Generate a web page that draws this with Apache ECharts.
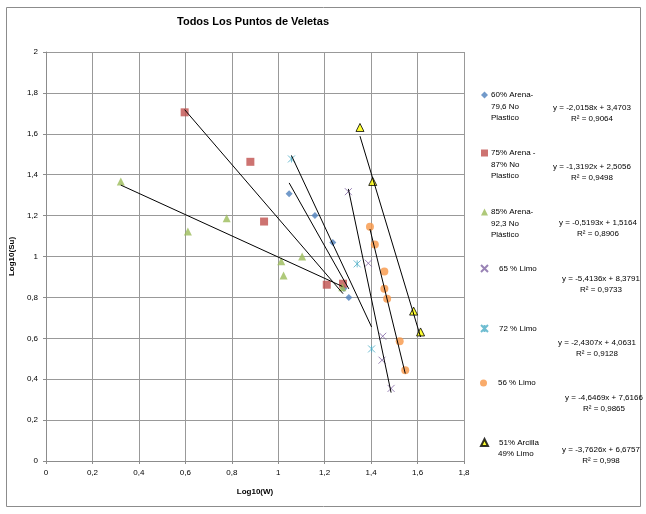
<!DOCTYPE html>
<html>
<head>
<meta charset="utf-8">
<script src="https://cdn.jsdelivr.net/npm/echarts@6/dist/echarts.min.js"></script>
<style>html,body{margin:0;padding:0;background:#fff}#c{width:646px;height:514px}</style>
</head>
<body>
<div id="c"></div>
<script>
// ---- data ----
const seriesNames = ['60% Arena-\n79,6 No\nPlastico', '75% Arena -\n87% No\nPlastico', '85% Arena-\n92,3 No\nPlástico', '65 % Limo', '72 % Limo', '56 % Limo', '51% Arcilla\n49% Limo'];
const s60x = [1.047, 1.158, 1.235, 1.283, 1.304];
const s60y = [1.307, 1.200, 1.068, 0.843, 0.800];
const s75x = [0.597, 0.880, 0.939, 1.209, 1.279];
const s75y = [1.705, 1.463, 1.171, 0.862, 0.867];
const s85x = [0.322, 0.611, 0.778, 1.013, 1.023, 1.103, 1.276];
const s85y = [1.367, 1.122, 1.187, 0.977, 0.907, 1.000, 0.850];
const s65x = [1.302, 1.388, 1.450, 1.447, 1.486];
const s65y = [1.317, 0.967, 0.610, 0.493, 0.355];
const s72x = [1.057, 1.340, 1.402];
const s72y = [1.477, 0.964, 0.548];
const s56x = [1.395, 1.416, 1.457, 1.457, 1.469, 1.523, 1.547];
const s56y = [1.146, 1.059, 0.927, 0.842, 0.794, 0.585, 0.444];
const s51x = [1.352, 1.407, 1.583, 1.613];
const s51y = [1.631, 1.367, 0.733, 0.631];
const slopes = [-2.0158, -1.3192, -0.5193, -5.4136, -2.4307, -4.6469, -3.7626];
const intercepts = [3.4703, 2.5056, 1.5164, 8.3791, 4.0631, 7.6166, 6.6757];
const equations = ['y = -2,0158x + 3,4703', 'y = -1,3192x + 2,5056', 'y = -0,5193x + 1,5164', 'y = -5,4136x + 8,3791', 'y = -2,4307x + 4,0631', 'y = -4,6469x + 7,6166', 'y = -3,7626x + 6,6757'];
const r2 = ['R² = 0,9064', 'R² = 0,9498', 'R² = 0,8906', 'R² = 0,9733', 'R² = 0,9128', 'R² = 0,9865', 'R² = 0,998'];
const xTickLabels = ['0', '0,2', '0,4', '0,6', '0,8', '1', '1,2', '1,4', '1,6', '1,8'];
const yTickLabels = ['0', '0,2', '0,4', '0,6', '0,8', '1', '1,2', '1,4', '1,6', '1,8', '2'];

const xs = [s60x, s75x, s85x, s65x, s72x, s56x, s51x];
const ys = [s60y, s75y, s85y, s65y, s72y, s56y, s51y];

// ---- styling ----
const FONT = '"Liberation Sans", Arial, sans-serif';
const colors = ['#4F81BD', '#C0504D', '#9BBB59', '#8064A2', '#4BACC6', '#F79646', '#FFFF00'];
const symbols = ['diamond', 'rect', 'triangle', 'path://M0,0L10,10M10,0L0,10',
  'path://M0,0L10,10M10,0L0,10M5,0L5,10', 'circle', 'triangle'];
const sizes = [7, 8, 8, 7, 7, 8, 8];
const legendTop = [95, 153, 212, 268, 328, 383, 442];
const legendLeft = [481, 481, 481, 480, 480, 480, 480];
const legendPad = [-2, -2, -2, 6, 6, 6, 6];
const eqX = [592, 592, 598, 601, 597, 604, 601];
const eqY = [108, 167, 223, 279, 343, 398, 450];

const series = [];
const legends = [];
for (let i = 0; i < 7; i++) {
  const isLineSym = (i === 3 || i === 4);
  const itemStyle = isLineSym
    ? { color: 'rgba(0,0,0,0)', borderColor: colors[i], borderWidth: 1 }
    : (i === 6 ? { color: colors[i], borderColor: '#000', borderWidth: 1 } : { color: colors[i] });
  series.push({
    name: seriesNames[i], type: 'scatter', symbol: symbols[i], symbolSize: sizes[i],
    data: xs[i].map((x, k) => [x, ys[i][k]]), itemStyle: itemStyle, z: 2
  });
  const xmin = Math.min(...xs[i]), xmax = Math.max(...xs[i]);
  series.push({
    type: 'line', silent: true, symbol: 'none', z: 3,
    lineStyle: { color: '#000', width: 1 },
    data: [[xmin, slopes[i] * xmin + intercepts[i]], [xmax, slopes[i] * xmax + intercepts[i]]]
  });
  legends.push({
    data: [seriesNames[i]], left: legendLeft[i], top: legendTop[i] - 4, orient: 'vertical',
    padding: 0, itemWidth: 7, itemHeight: 7, itemGap: 0, selectedMode: false,
    formatter: n => n.split('\n')[0],
    textStyle: { fontFamily: FONT, fontSize: 8, color: '#000', padding: [0, 0, 0, legendPad[i]] }
  });
}

const graphics = [];
graphics.push({ type: 'rect', shape: { x: 6.5, y: 7.5, width: 634, height: 499 }, style: { fill: 'none', stroke: '#8c8c8c', lineWidth: 1 }, z: -1 });
graphics.push({ type: 'text', x: 253, y: 22, style: { text: 'Todos Los Puntos de Veletas', font: 'bold 11px ' + FONT, fill: '#000', textAlign: 'center', textVerticalAlign: 'middle' } });
seriesNames.forEach((n, i) => {
  const parts = n.split('\n');
  for (let j = 1; j < parts.length; j++) {
    const x = legendLeft[i] + 7 + 5 + legendPad[i];
    graphics.push({ type: 'text', x: x, y: legendTop[i] + j * 11.5, style: { text: parts[j], font: '8px ' + FONT, fill: '#000', textVerticalAlign: 'middle' } });
  }
});
for (let i = 0; i < 7; i++) {
  graphics.push({ type: 'text', x: eqX[i], y: eqY[i], style: { text: equations[i], font: '8px ' + FONT, fill: '#000', textAlign: 'center', textVerticalAlign: 'middle' } });
  graphics.push({ type: 'text', x: eqX[i], y: eqY[i] + 11, style: { text: r2[i], font: '8px ' + FONT, fill: '#000', textAlign: 'center', textVerticalAlign: 'middle' } });
}

const chart = echarts.init(document.getElementById('c'), null, { renderer: 'canvas' });
chart.setOption({
  animation: false,
  backgroundColor: '#fff',
  grid: { left: 43, top: 52, width: 421, height: 409 },
  xAxis: {
    type: 'value', min: 0, max: 1.8, interval: 0.2,
    name: 'Log10(W)', nameLocation: 'middle', nameGap: 27,
    nameTextStyle: { fontFamily: FONT, fontSize: 8, fontWeight: 'bold', color: '#000' },
    axisLine: { show: true, lineStyle: { color: '#8c8c8c' } },
    axisTick: { show: true, length: 3, lineStyle: { color: '#8c8c8c' } },
    axisLabel: { fontFamily: FONT, fontSize: 8, color: '#000', margin: 8, formatter: (v, i) => xTickLabels[i] },
    splitLine: { show: true, lineStyle: { color: '#999', width: 1 } }
  },
  yAxis: {
    type: 'value', min: 0, max: 2, interval: 0.2,
    name: 'Log10(Su)', nameLocation: 'middle', nameGap: 17,
    nameTextStyle: { fontFamily: FONT, fontSize: 8, fontWeight: 'bold', color: '#000' },
    axisLine: { show: true, lineStyle: { color: '#8c8c8c' } },
    axisTick: { show: true, length: 3, lineStyle: { color: '#8c8c8c' } },
    axisLabel: { fontFamily: FONT, fontSize: 8, color: '#000', margin: 8, formatter: (v, i) => yTickLabels[i] },
    splitLine: { show: true, lineStyle: { color: '#999', width: 1 } }
  },
  legend: legends,
  series: series,
  graphic: graphics
});
</script>
</body>
</html>
